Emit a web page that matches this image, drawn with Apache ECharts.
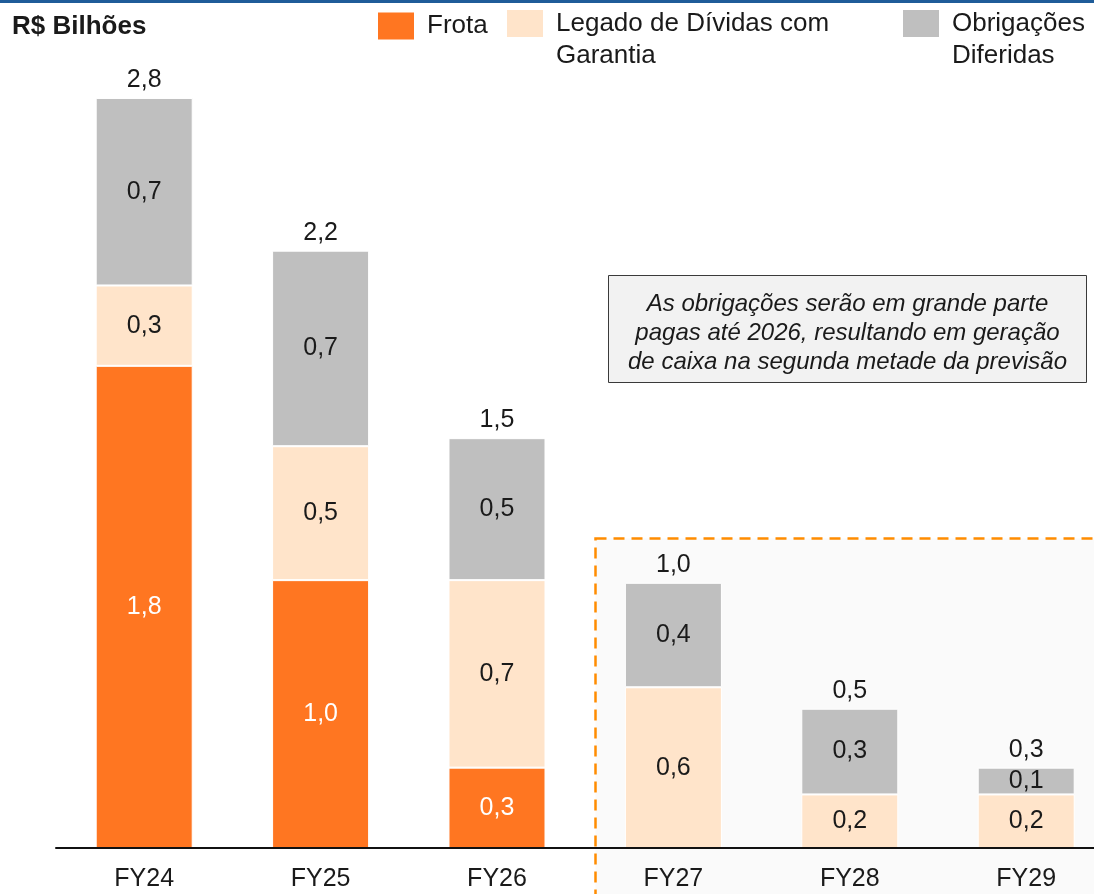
<!DOCTYPE html>
<html>
<head>
<meta charset="utf-8">
<script src="https://cdn.jsdelivr.net/npm/echarts@6/dist/echarts.min.js"></script>
<style>
html,body{margin:0;padding:0;background:#fff;overflow:hidden;width:1094px;height:894px;}
#chart{width:1120px;height:894px;}
</style>
</head>
<body>
<div id="chart"></div>
<script>
const categories = ['FY24', 'FY25', 'FY26', 'FY27', 'FY28', 'FY29'];
const frota = [1.8, 1.0, 0.3, 0, 0, 0];
const legado = [0.3, 0.5, 0.7, 0.6, 0.2, 0.2];
const obrigacoes = [0.7, 0.73, 0.53, 0.39, 0.32, 0.1];
const seriesNames = ['Frota', 'Legado de Dívidas com Garantia', 'Obrigações Diferidas'];
const legendLines = [['Frota'], ['Legado de Dívidas com', 'Garantia'], ['Obrigações', 'Diferidas']];
const titleText = 'R$ Bilhões';
const noteText = 'As obrigações serão em grande parte\npagas até 2026, resultando em geração\nde caixa na segunda metade da previsão';

const totals = categories.map((c, i) => frota[i] + legado[i] + obrigacoes[i]);
const fmt = v => (v ? v.toFixed(1).replace('.', ',') : '');

const FONT = '"Liberation Sans", Arial, sans-serif';
const colors = ['#FF7621', '#FFE4CA', '#BFBFBF'];

const chart = echarts.init(document.getElementById('chart'), null, {renderer: 'canvas'});

function barSeries(name, data, color, labelColor) {
  return {
    name: name,
    type: 'bar',
    stack: 'total',
    data: data,
    barWidth: '55%',
    itemStyle: {color: color, borderColor: '#ffffff', borderWidth: 1},
    label: {
      show: true,
      position: 'inside',
      color: labelColor,
      fontFamily: FONT,
      fontSize: 25,
      formatter: p => fmt(p.value)
    },
    emphasis: {disabled: true},
    z: 3
  };
}

function legendFor(idx, left, top) {
  const lines = legendLines[idx];
  return {
    show: true,
    left: left,
    top: top,
    padding: 0,
    orient: 'horizontal',
    selectedMode: false,
    icon: 'rect',
    itemWidth: 36,
    itemHeight: 27,
    itemGap: 0,
    itemStyle: {borderWidth: 0},
    formatter: function () {
      if (lines.length === 1) return '{a|' + lines[0] + '}';
      return '{s| }\n' + lines.map(l => '{a|' + l + '}').join('\n');
    },
    textStyle: {
      fontFamily: FONT,
      fontSize: 26,
      color: '#1a1a1a',
      lineHeight: 32,
      rich: {
        s: {fontFamily: FONT, fontSize: 26, lineHeight: 32},
        a: {fontFamily: FONT, fontSize: 26, lineHeight: 32, color: '#1a1a1a', padding: [0, 0, 0, 8]}
      }
    },
    data: [seriesNames[idx]]
  };
}

const option = {
  backgroundColor: '#ffffff',
  animation: false,
  title: {
    text: titleText,
    left: 12,
    top: 14,
    padding: 0,
    textStyle: {fontFamily: FONT, fontSize: 26, fontWeight: 'bold', color: '#1a1a1a'}
  },
  legend: [
    legendFor(0, 378, 10),
    legendFor(1, 507, -24.5),
    legendFor(2, 903, -24.5)
  ],
  grid: {left: 56, top: 44.4, width: 1058.4, height: 803.6, containLabel: false},
  xAxis: {
    type: 'category',
    data: categories,
    axisLine: {show: true, lineStyle: {color: '#111', width: 2}},
    axisTick: {show: false},
    axisLabel: {fontFamily: FONT, fontSize: 25, color: '#1a1a1a', margin: 19},
    splitLine: {show: false},
    z: 5
  },
  yAxis: {
    type: 'value',
    min: 0,
    max: 3,
    show: false,
    splitLine: {show: false}
  },
  graphic: [
    {
      type: 'rect',
      z: -10,
      shape: {x: 0, y: 0, width: 1120, height: 3},
      style: {fill: '#1F5C99'}
    },
    {
      type: 'rect',
      z: -10,
      shape: {x: 595.5, y: 538.5, width: 600, height: 400},
      style: {fill: '#FAFAFA', stroke: '#FF8C00', lineWidth: 2.5, lineDash: [11, 7]}
    },
    {
      type: 'rect',
      z: 10,
      shape: {x: 608.5, y: 275.5, width: 478, height: 107},
      style: {fill: '#F2F2F2', stroke: '#3a3a3a', lineWidth: 1}
    },
    {
      type: 'text',
      z: 11,
      x: 847.5,
      y: 333,
      style: {
        text: noteText,
        align: 'center',
        verticalAlign: 'middle',
        fontFamily: FONT,
        fontSize: 24,
        fontStyle: 'italic',
        lineHeight: 29,
        fill: '#1a1a1a'
      }
    }
  ],
  series: [
    barSeries(seriesNames[0], frota, colors[0], '#ffffff'),
    barSeries(seriesNames[1], legado, colors[1], '#1a1a1a'),
    barSeries(seriesNames[2], obrigacoes, colors[2], '#1a1a1a'),
    {
      name: 'Total',
      type: 'line',
      data: totals,
      symbol: 'circle',
      symbolSize: 1,
      showSymbol: true,
      silent: true,
      itemStyle: {color: 'rgba(0,0,0,0)'},
      lineStyle: {width: 0, color: 'rgba(0,0,0,0)'},
      label: {
        show: true,
        position: 'top',
        distance: 5,
        color: '#1a1a1a',
        fontFamily: FONT,
        fontSize: 25,
        formatter: p => fmt(p.value)
      },
      z: 6
    }
  ]
};

chart.setOption(option);
</script>
</body>
</html>
